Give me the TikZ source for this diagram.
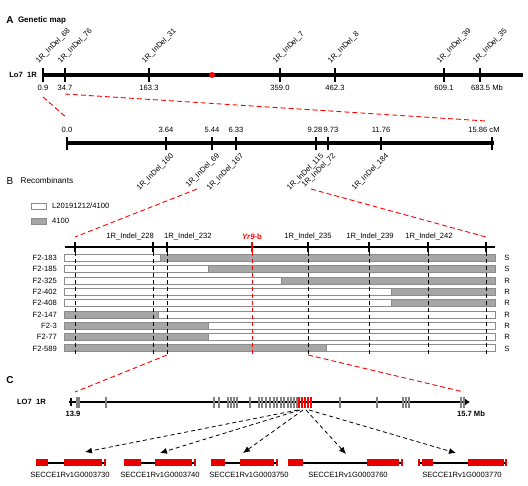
\documentclass[tikz,border=0pt]{standalone}
\usepackage{fontspec}
\setmainfont{Liberation Sans}
\usetikzlibrary{arrows.meta,positioning}
\definecolor{hetgray}{RGB}{166,166,166}
\definecolor{boxgray}{RGB}{140,140,140}
\definecolor{exonred}{RGB}{232,0,0}
\tikzset{%
	head/.style     = {font=\fontsize{10}{12}\selectfont\bfseries, inner sep=1pt},
	subhead/.style  = {font=\fontsize{8}{9}\selectfont\bfseries, inner sep=1pt},
	lbl/.style      = {font=\fontsize{7.6}{9}\selectfont, inner sep=1pt},
	boldlbl/.style  = {font=\fontsize{7.6}{9}\selectfont\bfseries, inner sep=1pt},
	chrom/.style    = {line width=4pt},
	mtick/.style    = {line width=1.2pt},
	btick/.style    = {line width=2pt},
	zoomline/.style = {red, line width=0.9pt, dash pattern=on 5pt off 3pt},
	vdash/.style    = {line width=1pt, dash pattern=on 4pt off 3pt},
	rowbox/.style   = {draw=boxgray, line width=0.8pt},
	genetick/.style = {draw=gray, line width=1.5pt},
	exon/.style     = {fill=exonred},
	genearrow/.style= {line width=0.8pt, dash pattern=on 4pt off 3pt, -{Latex[length=7pt,width=6pt]}},
}
\begin{document}
\begin{tikzpicture}[x=1pt,y=-1pt]
	\useasboundingbox (0,0) rectangle (528,486);
	
	% A: genetic map
	\node[head] (A) at (10,20) {A};
	\node[subhead, right=2pt of A] (Atitle) {Genetic map};
	\node[boldlbl, anchor=east] (lo7a) at (38,75) {Lo7\ \ 1R};
	\draw[chrom] (43,75) -- (523,75);
	\fill[red] (212,75) circle (3pt);
	\foreach \x/\pos/\mk in {43/0.9/68, 65/34.7/76, 149/163.3/31, 280/359.0/7, 335/462.3/8, 444/609.1/39} {
		\draw[mtick] (\x,68) -- (\x,82);
		\node[lbl] (pos\mk) at (\x,88) {\pos};
		\node[lbl, rotate=45, anchor=south west] (mk\mk) at (\x-3,66) {1R\_InDel\_\mk};
	}
	\draw[mtick] (480,68) -- (480,82);
	\node[lbl] (pos35) at (487,88) {683.5 Mb};
	\node[lbl, rotate=45, anchor=south west] (mk35) at (477,66) {1R\_InDel\_35};
	
	\coordinate (aL) at (43,97);
	\coordinate (aR) at (65,94);
	\coordinate (zL) at (67,118);
	\coordinate (zR) at (486,121);
	\draw[zoomline] (aL) -- (zL);
	\draw[zoomline] (aR) -- (zR);
	
	% zoomed interval in cM
	\draw[chrom] (67,143) -- (494,143);
	\foreach \x/\lx/\cm in {67/67/0.0, 166/166/3.64, 212/212/5.44, 236/236/6.33, 316/315/9.28, 328/331/9.73, 381/381/11.76} {
		\draw[mtick] (\x,137) -- (\x,150);
		\node[lbl] (cm\x) at (\lx,130) {\cm};
	}
	\draw[mtick] (492,137) -- (492,150);
	\node[lbl] (cm492) at (484,130) {15.86 cM};
	\foreach \x/\mk in {166/160, 212/69, 236/167, 316/115, 328/72, 381/184}
		\node[lbl, rotate=45, anchor=north east] (lk\mk) at (\x+4,151) {1R\_InDel\_\mk};
	
	\coordinate (bL) at (197,189);
	\coordinate (bR) at (311,189);
	\coordinate (rL) at (75,237);
	\coordinate (rR) at (486,237);
	\draw[zoomline] (bL) -- (rL);
	\draw[zoomline] (bR) -- (rR);
	
	% B: recombinants
	\node[head, font=\fontsize{10}{12}\selectfont] (B) at (10,181) {B};
	\node[lbl, font=\fontsize{8.2}{9}\selectfont, right=5pt of B] (Btitle) {Recombinants};
	\draw[rowbox, fill=white] (31,203) rectangle (46,209);
	\node[lbl, anchor=west] (leg1) at (51,206) {L20191212/4100};
	\draw[rowbox, fill=hetgray] (31,218) rectangle (46,224);
	\node[lbl, anchor=west] (leg2) at (51,221) {4100};
	
	\node[lbl, anchor=east] (i228) at (155,237) {1R\_Indel\_228};
	\node[lbl, anchor=west] (i232) at (163,237) {1R\_Indel\_232};
	\node[lbl, text=red, font=\fontsize{7.8}{9}\selectfont\bfseries] (yr9) at (252,237) {\textit{Yr9}-b};
	\node[lbl] (i235) at (308,237) {1R\_Indel\_235};
	\node[lbl] (i239) at (370,237) {1R\_Indel\_239};
	\node[lbl] (i242) at (429,237) {1R\_Indel\_242};
	
	\foreach \id/\ca/\cb/\sw/\ph [count=\i] in {F2-183/white/hetgray/160/S, F2-185/white/hetgray/208/S, F2-325/white/hetgray/281/R, F2-402/white/hetgray/391/R, F2-408/white/hetgray/391/R, F2-147/hetgray/white/158/R, F2-3/hetgray/white/208/R, F2-77/hetgray/white/208/R, F2-589/hetgray/white/326/S} {
		\pgfmathsetmacro{\y}{258+11.3*(\i-1)}
		\draw[rowbox, fill=\ca] (64,\y-3.5) rectangle (\sw,\y+3.5);
		\draw[rowbox, fill=\cb] (\sw,\y-3.5) rectangle (495,\y+3.5);
		\node[lbl, anchor=east] (row\i) at (58,\y) {\id};
		\node[lbl] (ph\i) at (507,\y) {\ph};
	}
	
	\draw[line width=2pt] (65,247) -- (495,247);
	\foreach \x in {75,153,167,308,369,428,486} {
		\draw[btick] (\x,242) -- (\x,252);
		\draw[vdash] (\x,252) -- (\x,354);
	}
	\draw[btick, red] (252,242) -- (252,252);
	\draw[vdash, red] (252,252) -- (252,354);
	
	\coordinate (cL) at (167,355);
	\coordinate (cR) at (308,355);
	\coordinate (gL) at (75,392);
	\coordinate (gR) at (464,392);
	\draw[zoomline] (cL) -- (gL);
	\draw[zoomline] (cR) -- (gR);
	
	% C: physical interval and candidate genes
	\node[head] (C) at (10,380) {C};
	\node[boldlbl, anchor=east] (lo7c) at (47,402) {LO7\ \ 1R};
	\draw[line width=2.4pt, -{Latex[length=5pt,width=7pt]}] (69,402) -- (470,402);
	\draw[line width=2.4pt] (71,398) -- (71,406);
	\foreach \x in {77,79,106,214,219,228,231,234,237,250,259,262,266,270,274,277,281,284,288,291,294,297,340,377,403,406,409,461,464}
		\draw[genetick] (\x,397) -- (\x,408);
	\foreach \x in {299,302,305,308,311}
		\draw[genetick, draw=red] (\x,397) -- (\x,408);
	\node[boldlbl] (start) at (73,414) {13.9};
	\node[boldlbl] (stop) at (471,414) {15.7 Mb};
	
	\foreach \a/\b in {36/106, 124/196, 211/278, 288/403, 418/507}
		\draw[line width=1.3pt] (\a,463) -- (\b,463);
	\foreach \a/\b in {36/48, 64/102, 104/106, 124/141, 155/192, 194/196, 211/225, 240/274, 276/278, 288/303, 367/399, 401/403, 418/420, 422/433, 468/504, 505/507}
		\fill[exon] (\a,459.5) rectangle (\b,466.5);
	\foreach \x/\g [count=\i] in {70/3730, 160/3740, 249/3750, 348/3760, 462/3770}
		\node[lbl] (g\g) at (\x,475) {SECCE1Rv1G000\g};
	
	\foreach \sx/\tx/\ty [count=\i] in {298/85/452, 300/160/453, 303/243/453, 306/346/454, 309/456/453} {
		\coordinate (src\i) at (\sx,410);
		\coordinate (tip\i) at (\tx,\ty);
		\draw[genearrow] (src\i) -- (tip\i);
	}
\end{tikzpicture}
\end{document}
